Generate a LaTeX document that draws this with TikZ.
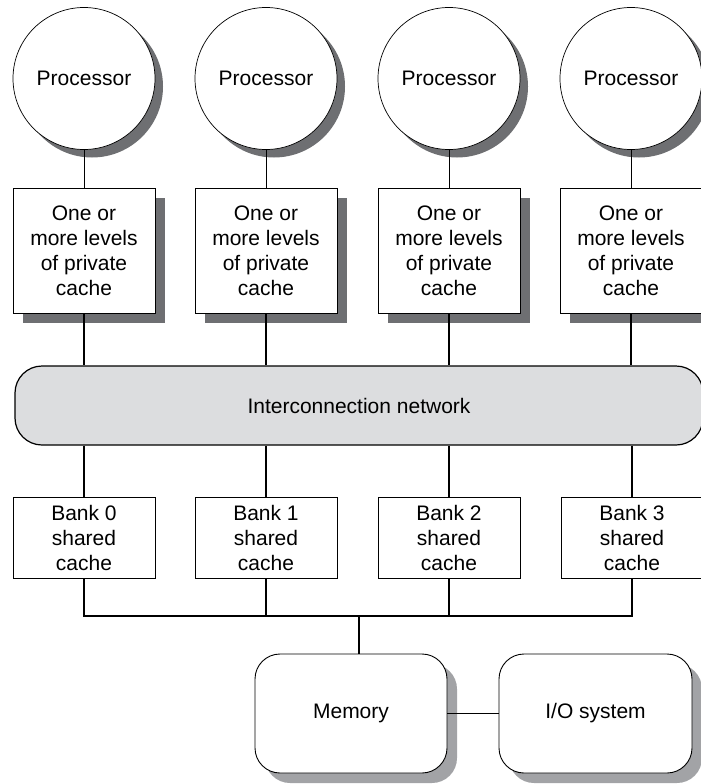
\documentclass[tikz,border=0pt]{standalone}
\usepackage{fontspec}
\setmainfont{Liberation Sans}
\usetikzlibrary{shadows}
\definecolor{netgray}{HTML}{DCDDDF}
\definecolor{shadowdark}{HTML}{6E6F72}
\definecolor{shadowlight}{HTML}{A2A3A6}
\begin{document}
\begin{tikzpicture}[x=1pt,y=-1pt,
  every node/.style={font=\fontsize{21}{25}\selectfont, align=center},
  proc/.style={circle, draw, line width=0.7pt, fill=white, minimum size=142pt, inner sep=0pt,
    drop shadow={shadow xshift=8pt, shadow yshift=-8pt, opacity=1, fill=shadowdark}},
  pcache/.style={rectangle, draw, line width=0.9pt, fill=white, minimum width=142pt, minimum height=125pt, inner sep=0pt,
    drop shadow={shadow xshift=10pt, shadow yshift=-10pt, opacity=1, fill=shadowdark}},
  bank/.style={rectangle, draw, line width=0.9pt, fill=white, minimum width=142pt, minimum height=81pt, inner sep=0pt},
  mem/.style={rectangle, rounded corners=25pt, draw, line width=0.9pt, fill=white, minimum width=192pt, minimum height=119pt, inner sep=0pt,
    drop shadow={shadow xshift=10pt, shadow yshift=-10pt, opacity=1, fill=shadowlight}},
  net/.style={rectangle, rounded corners=27pt, draw, line width=1.2pt, fill=netgray, minimum width=688pt, minimum height=79pt, inner sep=0pt},
  thinline/.style={line width=0.8pt},
  thickline/.style={line width=1.8pt}]
\useasboundingbox (0,0) rectangle (701,784);
\clip (0,0) rectangle (701,784);

% processors
\node[proc] (p0) at (84,78.5) {Processor};
\node[proc] (p1) at (266,78.5) {Processor};
\node[proc] (p2) at (449,78.5) {Processor};
\node[proc] (p3) at (631,78.5) {Processor};

% private caches
\node[pcache] (c0) at (84,250.5) {One or\\more levels\\of private\\cache};
\node[pcache] (c1) at (266,250.5) {One or\\more levels\\of private\\cache};
\node[pcache] (c2) at (449,250.5) {One or\\more levels\\of private\\cache};
\node[pcache] (c3) at (631,250.5) {One or\\more levels\\of private\\cache};

% network
\node[net] (net) at (359,405.5) {Interconnection network};

% banks
\node[bank] (b0) at (84,537.5) {Bank 0\\shared\\cache};
\node[bank] (b1) at (266,537.5) {Bank 1\\shared\\cache};
\node[bank] (b2) at (449,537.5) {Bank 2\\shared\\cache};
\node[bank] (b3) at (632,537.5) {Bank 3\\shared\\cache};

% memory and I/O
\node[mem] (mem) at (351,713.5) {Memory};
\node[mem, minimum width=193pt] (io) at (595.5,713.5) {I/O system};

% connectors
\foreach \i in {0,1,2,3}{
  \draw[thinline] (p\i.south) -- (c\i.north);
  \draw[thickline] (c\i.south) -- (c\i.south |- net.north);
  \draw[thickline] (b\i.north |- net.south) -- (b\i.north);
}
\coordinate (bus) at (0,616);
\draw[thickline] (b0.south) -- (b0.south |- bus) -| (b3.south);
\draw[thickline] (b1.south) -- (b1.south |- bus);
\draw[thickline] (b2.south) -- (b2.south |- bus);
\coordinate (mtap) at (359,616);
\draw[thickline] (mtap) -- (mtap |- mem.north);
\draw[thickline] (mem.east) -- (io.west);
\end{tikzpicture}
\end{document}
